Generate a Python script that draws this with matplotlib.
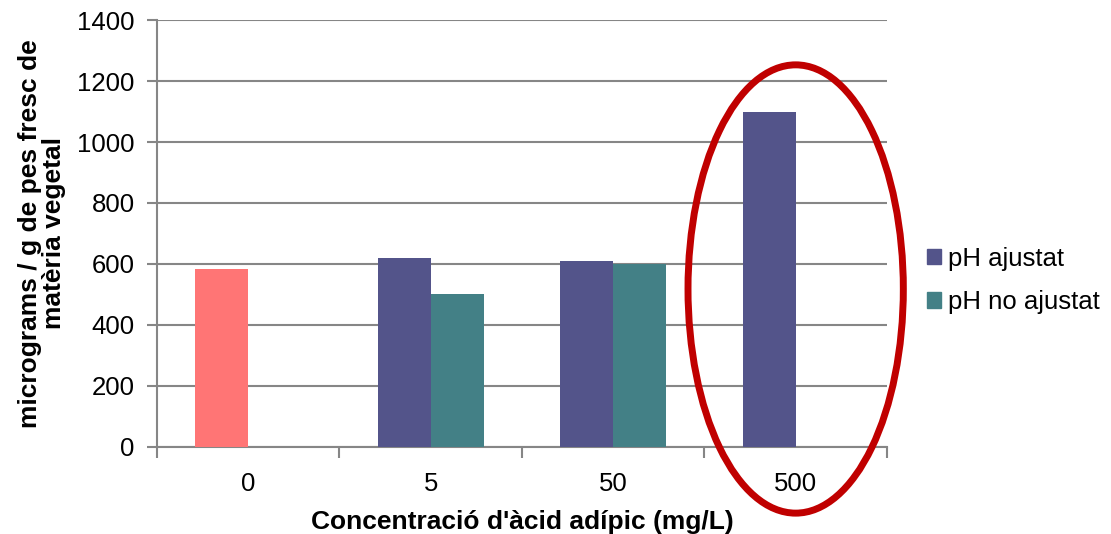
import numpy as np
import matplotlib
matplotlib.use("Agg")
import matplotlib.pyplot as plt
from matplotlib.patches import Ellipse, Patch

plt.rcParams['font.family'] = ['Liberation Sans', 'DejaVu Sans']

# Dades
categories = ["0", "5", "50", "500"]
ph_ajustat = [585, 620, 610, 1100]
ph_no_ajustat = [np.nan, 500, 600, np.nan]
series_labels = ["pH ajustat", "pH no ajustat"]
color_ajustat = "#53548A"
color_no_ajustat = "#438086"
color_control = "#FF7575"
grid_color = "#868686"

fig = plt.figure(figsize=(11.11, 5.34), dpi=100)
ax = fig.add_axes([0.1413, 0.163, 0.657, 0.7995])

x = np.arange(len(categories))
w = 0.29

# la barra del control (0 mg/L) en vermell
colors_a = [color_control] + [color_ajustat] * (len(categories) - 1)
ax.bar(x - w / 2, ph_ajustat, w, color=colors_a, zorder=3)
ax.bar(x + w / 2, ph_no_ajustat, w, color=color_no_ajustat, zorder=3)

ax.set_xlim(-0.5, len(categories) - 0.5)
ax.set_ylim(0, 1400)
ax.set_yticks(np.arange(0, 1401, 200))
ax.yaxis.grid(True, color=grid_color, linewidth=1.5, zorder=0)
ax.set_axisbelow(True)

ax.set_xticks(x)
ax.set_xticklabels(categories, fontsize=18.5)
ax.set_xticks(np.arange(-0.5, len(categories)), minor=True)
ax.tick_params(axis='x', which='major', length=0, pad=18)
ax.tick_params(axis='x', which='minor', length=8, width=1.5, color=grid_color)
ax.tick_params(axis='y', labelsize=18.5, length=7, width=1.5, color=grid_color, pad=9)

for s in ["top", "right"]:
    ax.spines[s].set_visible(False)
for s in ["left", "bottom"]:
    ax.spines[s].set_color(grid_color)
    ax.spines[s].set_linewidth(1.5)

ax.set_xlabel("Concentració d'àcid adípic (mg/L)", fontsize=19, fontweight='bold', labelpad=10)
ax.set_ylabel("micrograms / g de pes fresc de\nmatèria vegetal", fontsize=19,
              fontweight='bold', labelpad=8, linespacing=1.0)

# el·lipse vermella que destaca 500 mg/L
ell = Ellipse((3.0, 518), 1.18, 1470, fill=False, edgecolor="#C00000",
              linewidth=5, clip_on=False, zorder=5)
ax.add_patch(ell)

handles = [Patch(color=color_ajustat), Patch(color=color_no_ajustat)]
fig.legend(handles, series_labels, loc='center left', bbox_to_anchor=(0.823, 0.475),
           frameon=False, fontsize=18.5, handlelength=0.55, handleheight=0.55,
           handletextpad=0.25, labelspacing=0.75, borderpad=0)

fig.savefig("out.png", dpi=100)
